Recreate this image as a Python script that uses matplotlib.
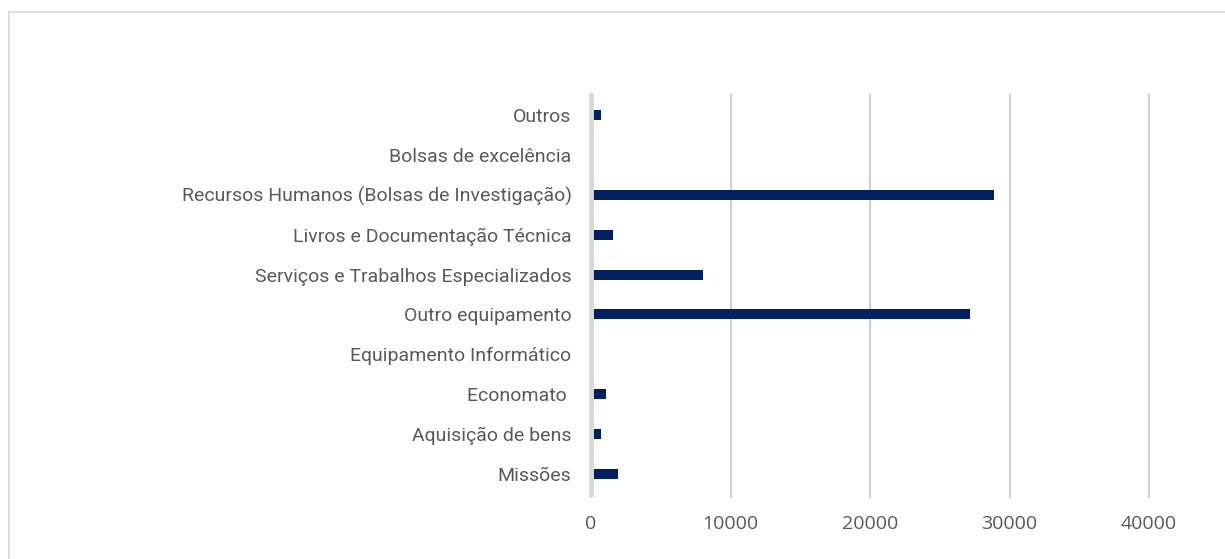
import matplotlib.pyplot as plt
from matplotlib.patches import Rectangle

# categorias (de baixo para cima, como no Excel)
categorias = ['Missões', 'Aquisição de bens', 'Economato ', 'Equipamento Informático',
              'Outro equipamento', 'Serviços e Trabalhos Especializados',
              'Livros e Documentação Técnica', 'Recursos Humanos (Bolsas de Investigação)',
              'Bolsas de excelência', 'Outros']
valores = [1900, 750, 1100, 0, 27200, 8000, 1600, 28900, 0, 750]
ticks_x = [0, 10000, 20000, 30000, 40000]

plt.rcParams['font.family'] = ['Roboto', 'DejaVu Sans']

fig = plt.figure(figsize=(12.25, 5.59), dpi=100)
ax = fig.add_axes([591/1225, 1 - 494/559, (1149 - 591)/1225, (494 - 95)/559])

pos = range(len(categorias))
ax.barh(pos, valores, height=0.25, color='#002060', zorder=3)

ax.set_xlim(0, 40000)
ax.set_ylim(-0.5, len(categorias) - 0.5)
ax.set_yticks(list(pos))
ax.set_yticklabels(categorias, fontsize=14, color='#595959')
ax.set_xticks(ticks_x)
ax.set_xticklabels([str(t) for t in ticks_x], family=['Open Sans', 'DejaVu Sans'],
                   fontsize=14, color='#595959')

ax.grid(axis='x', color='#d0d0d0', linewidth=1.6, zorder=0)
for g in ax.xaxis.get_gridlines():
    g.set_clip_on(False)
for s in ['top', 'right', 'bottom']:
    ax.spines[s].set_visible(False)
ax.spines['left'].set_color('#d9d9d9')
ax.spines['left'].set_linewidth(3.5)
ax.spines['left'].set_zorder(4)

ax.tick_params(axis='y', length=0, pad=14)
ax.tick_params(axis='x', length=3, width=1.6, color='#d0d0d0', pad=12)
for t in ax.xaxis.get_major_ticks():
    t.tick1line.set_clip_on(False)

# borda da área do gráfico
fig.patches.append(Rectangle((9/1225, -0.1), 1.2, 1 - 12/559 + 0.1,
                             transform=fig.transFigure, fill=False,
                             edgecolor='#d9d9d9', linewidth=1.2))

fig.savefig('out.png', dpi=100)
